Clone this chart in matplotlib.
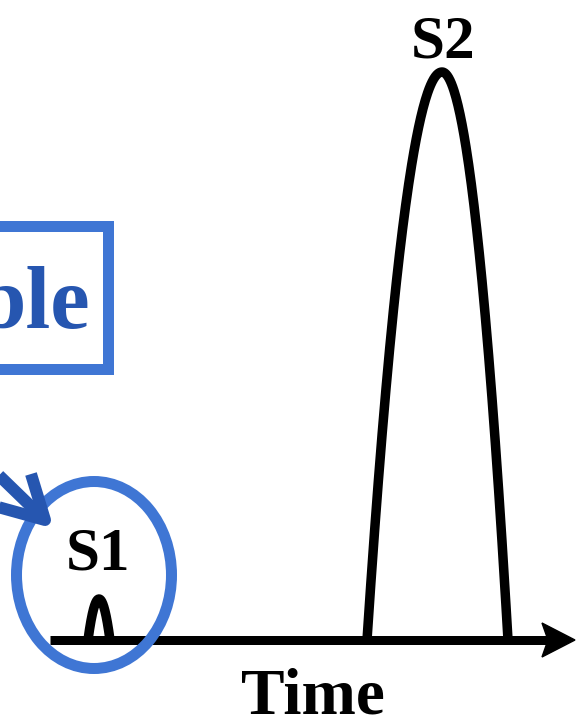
import numpy as np
import matplotlib
matplotlib.use("Agg")
import matplotlib.pyplot as plt
from matplotlib.patches import Ellipse, Rectangle, Polygon

# Chromatogram peaks (time in px-scaled units, signal above baseline)
peak_names = ["S1", "S2"]
peak_times = [99, 442]
peak_heights = [41, 568]
peak_left_widths = [11, 75]
peak_right_widths = [11, 66]

axis_start = 50
axis_end = 575
axis_label = "Time"
callout_text = "ble"

BLACK = "#000000"
LIGHT_BLUE = "#3f76d4"
DARK_BLUE = "#2656b0"
PX = 72 / 100  # points per pixel at dpi 100

fig = plt.figure(figsize=(5.78, 7.24), dpi=100)
ax = fig.add_axes([0, 0, 1, 1])
ax.set_xlim(0, 578)
ax.set_ylim(-84, 640)
ax.axis("off")

serif = ["Liberation Serif", "DejaVu Serif"]

# time axis with arrow head
head_len = axis_end - 542
ax.plot([axis_start, axis_end - head_len + 6], [0, 0], color=BLACK,
        lw=9 * PX, solid_capstyle="butt", zorder=2)
ax.add_patch(Polygon([(axis_end, 0), (axis_end - head_len, 17),
                      (axis_end - head_len + 6, 0), (axis_end - head_len, -17)],
                     closed=True, color=BLACK, zorder=2))
ax.text((axis_start + axis_end) / 2, -74, axis_label, ha="center",
        va="baseline", fontsize=47, fontweight="bold", family=serif)

# peaks: parabolic profiles, asymmetric half-widths
for name, t, h, wl, wr in zip(peak_names, peak_times, peak_heights,
                              peak_left_widths, peak_right_widths):
    xl = np.linspace(t - wl, t, 100)
    xr = np.linspace(t, t + wr, 100)
    yl = h * (1 - ((xl - t) / wl) ** 2)
    yr = h * (1 - ((xr - t) / wr) ** 2)
    x = np.concatenate([xl, xr[1:]])
    y = np.concatenate([yl, yr[1:]])
    ax.plot(x, y, color=BLACK, lw=9.5 * PX, solid_capstyle="butt",
            solid_joinstyle="round", zorder=3)

# peak labels
ax.text(peak_times[0] - 1, 70, peak_names[0], ha="center", va="baseline",
        fontsize=44, fontweight="bold", family=serif)
ax.text(peak_times[1] + 1, 583, peak_names[1], ha="center", va="baseline",
        fontsize=44, fontweight="bold", family=serif)

# circle around the small peak
ax.add_patch(Ellipse((94, 640 - 575), 155, 187, fill=False,
                     edgecolor=LIGHT_BLUE, lw=11 * PX, zorder=5))

# callout box with label
ax.add_patch(Rectangle((-60, 640 - 369), 108 + 60, 369 - 226, fill=False,
                       edgecolor=LIGHT_BLUE, lw=11 * PX, joinstyle="miter",
                       zorder=4))
ax.text(90, 640 - 328, callout_text, ha="right", va="baseline",
        fontsize=64, fontweight="bold", color=DARK_BLUE, family=serif)

# pointer arrow into the circle
tip = (45, 640 - 520)
ax.plot([-20, tip[0]], [640 - 457, tip[1]], color=DARK_BLUE, lw=12 * PX,
        solid_capstyle="butt", zorder=6)
ax.plot([31, tip[0], -2], [640 - 474, tip[1], 640 - 507], color=DARK_BLUE,
        lw=12 * PX, solid_capstyle="butt", solid_joinstyle="round", zorder=6)

fig.savefig("out.png", dpi=100)
